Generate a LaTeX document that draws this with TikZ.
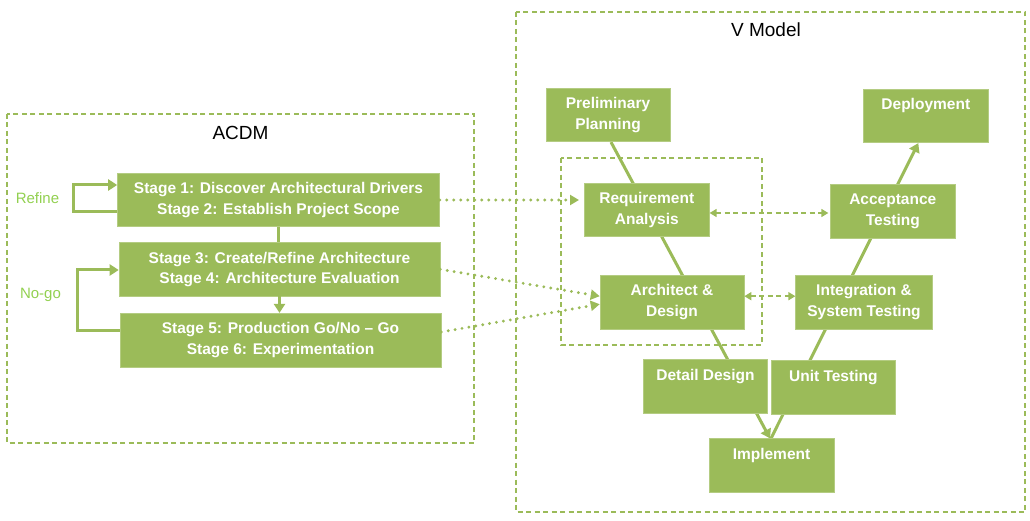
\documentclass[tikz,border=0pt]{standalone}
\usepackage{fontspec}
\setmainfont{Liberation Sans}
\usetikzlibrary{arrows.meta,backgrounds}
\definecolor{vg}{HTML}{9BBB59}
\definecolor{lg}{HTML}{92D050}
\begin{document}
\begin{tikzpicture}[x=1pt,y=-1pt,
  box/.style={fill=vg, draw=vg!75!white, line width=0.6pt, text=white,
    font=\fontsize{15.5}{20.5}\selectfont\bfseries, align=center, inner sep=0pt,
    minimum height=53.6pt},
  frame/.style={draw=vg, line width=1.7pt, dash pattern=on 5pt off 3.5pt},
  title/.style={font=\fontsize{19}{21}\selectfont, text=black},
  side/.style={font=\fontsize{15}{17}\selectfont, text=lg},
  flow/.style={draw=vg, line width=3pt, -{Triangle[length=9pt,width=11pt]}},
  plain/.style={draw=vg, line width=3pt},
  dotarrow/.style={draw=vg, line width=3.2pt, line cap=round, dash pattern=on 0pt off 7pt,
    -{Triangle[length=9pt,width=10pt]}},
  dasharrow/.style={draw=vg, line width=1.5pt, dash pattern=on 5pt off 3.5pt,
    {Triangle[length=7pt,width=8pt]}-{Triangle[length=7pt,width=8pt]}}
]
\useasboundingbox (0,0) rectangle (1030,521);

% frames
\draw[frame] (7,114) rectangle (474,443);
\draw[frame] (516,12) rectangle (1025,512);
\draw[frame] (561,157.7) rectangle (761.7,345);
\node[title] (tacdm) at (240.5,133) {ACDM};
\node[title] (tv) at (766,30) {V Model};

% ACDM boxes
\node[box, minimum width=322pt] (b1) at (278.5,200) {Stage 1: Discover Architectural Drivers\\Stage 2: Establish Project Scope};
\node[box, minimum width=321pt] (b2) at (279.5,269.3) {Stage 3: Create/Refine Architecture\\Stage 4: Architecture Evaluation};
\node[box, minimum width=321pt] (b3) at (280.5,340) {Stage 5: Production Go/No – Go\\Stage 6: Experimentation};

\node[side] (lref) at (37.5,198) {Refine};
\node[side] (lnogo) at (40.5,295) {No-go};

\draw[plain] (b1.south) -- (b1.south |- b2.north);
\draw[flow] (b2.south) -- (b2.south |- b3.north);
\draw[flow] ([yshift=-11.7pt]b1.west) -- ++(-44.2,0) |- ([yshift=15pt]b1.west);
\draw[flow] ([yshift=9.3pt]b3.west) -- ++(-42.7,0) |- ([yshift=-0.7pt]b2.west);

% V model boxes
\node[box, minimum width=124pt] (pp) at (608,115) {Preliminary\\Planning};
\node[box, minimum width=125pt] (dep) at (925.8,116) {Deployment\\\phantom{g}};
\node[box, minimum width=125pt] (ra) at (646.8,210) {Requirement\\Analysis};
\node[box, minimum width=124.3pt] (at) at (892.8,211.2) {Acceptance\\Testing};
\node[box, minimum width=144pt] (ad) at (672,302.2) {Architect \&\\Design};
\node[box, minimum width=136.6pt] (ist) at (864,302.2) {Integration \&\\System Testing};
\node[box, minimum width=124.4pt] (dd) at (705.5,386.3) {Detail Design\\\phantom{g}};
\node[box, minimum width=124.7pt] (ut) at (833.3,387.3) {Unit Testing\\\phantom{g}};
\node[box, minimum width=125pt] (imp) at (771.5,465.5) {Implement\\\phantom{g}};

\begin{scope}[on background layer]
\draw[flow] ([xshift=3pt]pp.south) -- ([xshift=-1.5pt]imp.north);
\draw[flow] ([xshift=-0.5pt]imp.north) -- ([xshift=-7.5pt]dep.south);
\end{scope}

% dotted links
\coordinate (t1) at (b1.east -| ra.west);
\draw[dotarrow] (b1.east) -- ([xshift=-5pt]t1);
\draw[dotarrow] (b2.east) -- ([yshift=6pt]ad.west);
\draw[dotarrow] ([yshift=8pt]b3.east) -- ([yshift=-2pt]ad.west);

% dashed two-way links
\coordinate (r1) at ([yshift=-3pt]ra.east);
\coordinate (r2) at (r1 -| at.west);
\draw[dasharrow] (r1) -- ([xshift=-2pt]r2);
\coordinate (s1) at ([yshift=6pt]ad.east);
\coordinate (s2) at (s1 -| ist.west);
\draw[dasharrow] (s1) -- (s2);
\end{tikzpicture}
\end{document}
